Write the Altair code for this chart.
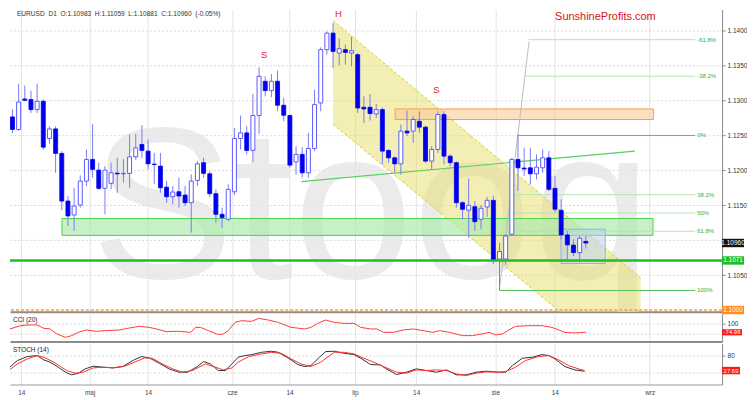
import altair as alt
import pandas as pd

# ---------------- data ----------------
opens = [1.12766, 1.12586, 1.13023, 1.13014, 1.12871, 1.12990, 1.12457, 1.12594, 1.12243, 1.11561,
         1.11361, 1.11504, 1.11847, 1.12157, 1.12004, 1.11743, 1.11814, 1.11960, 1.11950, 1.11957,
         1.12194, 1.12371, 1.12276, 1.12090, 1.12061, 1.11760, 1.11623, 1.11694, 1.11647, 1.11537,
         1.11857, 1.12110, 1.11951, 1.11666, 1.11371, 1.11300, 1.11694, 1.12457, 1.12537, 1.12286,
         1.12786, 1.13276, 1.13143, 1.13276, 1.12933, 1.12786, 1.12123, 1.12229, 1.11966, 1.12314,
         1.12966, 1.13729, 1.13966, 1.13680, 1.13729, 1.13680, 1.13657, 1.12904, 1.12904, 1.12809,
         1.12871, 1.12286, 1.12180, 1.12094, 1.12562, 1.12562, 1.12704, 1.12619, 1.12133, 1.12300,
         1.12800, 1.12204, 1.12110, 1.11537, 1.11429, 1.11480, 1.11300, 1.11476, 1.11571, 1.10729,
         1.10730, 1.11086, 1.12157, 1.12033, 1.12037, 1.11951, 1.12037, 1.12180, 1.11743, 1.11429,
         1.11076, 1.10930, 1.10823, 1.10983]
highs = [1.12876, 1.13243, 1.13214, 1.13143, 1.13243, 1.13020, 1.12633, 1.12633, 1.12276, 1.11633,
         1.11751, 1.11929, 1.12300, 1.12666, 1.12110, 1.12061, 1.12110, 1.12180, 1.12161, 1.12514,
         1.12523, 1.12647, 1.12443, 1.12251, 1.12251, 1.11847, 1.11776, 1.11894, 1.11776, 1.11943,
         1.12133, 1.12180, 1.11990, 1.11729, 1.11466, 1.11800, 1.12609, 1.12786, 1.12633, 1.13094,
         1.13476, 1.13347, 1.13380, 1.13429, 1.13037, 1.12800, 1.12347, 1.12333, 1.12537, 1.13157,
         1.13761, 1.13990, 1.14109, 1.13894, 1.13800, 1.13919, 1.13680, 1.13061, 1.13094, 1.12951,
         1.12900, 1.12300, 1.12200, 1.12657, 1.12857, 1.12776, 1.12847, 1.12640, 1.12347, 1.12847,
         1.12847, 1.12230, 1.12130, 1.11560, 1.11886, 1.11561, 1.11504, 1.11619, 1.11633, 1.10966,
         1.11086, 1.12180, 1.12514, 1.12323, 1.12323, 1.12229, 1.12300, 1.12276, 1.11919, 1.11586,
         1.11133, 1.11014, 1.11061, 1.11059]
lows = [1.12533, 1.12570, 1.12990, 1.12823, 1.12823, 1.12300, 1.12380, 1.11966, 1.11429, 1.11204,
        1.11133, 1.11466, 1.11776, 1.11894, 1.11720, 1.11371, 1.11729, 1.11680, 1.11823, 1.11751,
        1.12150, 1.12180, 1.12014, 1.11809, 1.11680, 1.11537, 1.11514, 1.11466, 1.11490, 1.11109,
        1.11776, 1.11894, 1.11619, 1.11251, 1.11180, 1.11276, 1.11647, 1.12300, 1.12229, 1.12123,
        1.12523, 1.13061, 1.13047, 1.12847, 1.12704, 1.12040, 1.11937, 1.11894, 1.11894, 1.12276,
        1.12847, 1.13657, 1.13466, 1.13504, 1.13514, 1.13490, 1.12823, 1.12680, 1.12714, 1.12751,
        1.12086, 1.12110, 1.11966, 1.11937, 1.12490, 1.12394, 1.12537, 1.12110, 1.12014, 1.12250,
        1.12086, 1.12061, 1.11466, 1.11300, 1.11037, 1.11133, 1.11157, 1.11333, 1.10657, 1.10276,
        1.10650, 1.11060, 1.11704, 1.11919, 1.11800, 1.11871, 1.11966, 1.11704, 1.11400, 1.11014,
        1.10704, 1.10776, 1.10680, 1.10881]
closes = [1.12586, 1.12980, 1.13004, 1.12871, 1.12990, 1.12333, 1.12594, 1.12243, 1.11561, 1.11347,
          1.11490, 1.11847, 1.12157, 1.12014, 1.11743, 1.12004, 1.11966, 1.11950, 1.11957, 1.12194,
          1.12323, 1.12286, 1.12094, 1.12085, 1.11751, 1.11623, 1.11690, 1.11633, 1.11537, 1.11847,
          1.12094, 1.11957, 1.11666, 1.11371, 1.11323, 1.11729, 1.12457, 1.12537, 1.12286, 1.12786,
          1.13347, 1.13143, 1.13276, 1.12933, 1.12790, 1.12076, 1.12229, 1.11966, 1.12314, 1.12943,
          1.13729, 1.13966, 1.13704, 1.13743, 1.13690, 1.13714, 1.12894, 1.12880, 1.12814, 1.12871,
          1.12276, 1.12180, 1.12094, 1.12562, 1.12537, 1.12729, 1.12619, 1.12133, 1.12300, 1.12800,
          1.12204, 1.12110, 1.11537, 1.11443, 1.11500, 1.11266, 1.11457, 1.11571, 1.10729, 1.10837,
          1.11061, 1.12157, 1.12037, 1.12020, 1.11951, 1.12047, 1.12180, 1.11729, 1.11443, 1.11076,
          1.10933, 1.10823, 1.11028, 1.10960]

# trading-day index of the date labels on the time axis
tick_pos = [1.44, 12.52, 21.99, 35.63, 44.94, 55.54, 65.49, 78.33, 87.96, 103.37]
tick_txt = ["14", "maj", "14", "cze", "14", "lip", "14", "sie", "14", "wrz"]
price_ticks = [1.105, 1.11, 1.115, 1.12, 1.125, 1.13, 1.135, 1.14]

# CCI (20)
cci_i = [-0.4, 1.3, 2.4, 4.0, 5.1, 6.1, 7.2, 8.6, 9.6, 10.7, 12.0, 13.6, 15.2, 17.4, 19.0,
         20.6, 22.2, 23.8, 24.9, 27.0, 28.9, 29.7, 30.5, 31.8, 33.4, 34.2, 35.0, 36.1, 37.2, 38.8,
         39.9, 41.5, 43.1, 45.2, 47.4, 48.4, 49.5, 50.8, 52.2, 53.8, 55.4, 56.5, 58.1, 59.1, 60.2,
         61.8, 63.4, 65.0, 66.6, 68.2, 69.3, 70.9, 73.0, 74.6, 76.2, 77.3, 78.4, 79.5, 80.5, 81.6,
         83.7, 85.9, 87.5, 88.6, 89.6, 91.2, 93.0]
cci_v = [-10, 54, 68, 68, 2, -10, -107, -173, -140, -76, -29, -56, -43, -29, 10,
         41, 21, -23, -62, -56, -76, 21, 21, -43, -121, -107, -43, 119, 152, 138,
         196, 165, 119, 21, -10, 21, 99, 165, 119, 99, 99, 21, -10, -10, -76,
         -76, -29, -10, -43, -76, -43, -76, -140, -140, -107, -76, -126, -107, -29, 41,
         54, 54, 21, -29, -76, -88, -75]
cci_last = -74.96

# STOCH (14): %K (black) and %D (red)
k_i = [-0.4, 0.8, 2.4, 4.0, 5.1, 6.1, 7.2, 8.6, 9.6, 10.7, 11.8, 13.1, 14.7, 16.3, 17.9,
       19.5, 20.9, 22.2, 23.8, 25.4, 27.0, 28.4, 30.0, 31.0, 32.1, 33.4, 34.5, 35.6, 36.6, 37.7,
       38.8, 40.4, 42.0, 43.1, 44.7, 46.3, 47.4, 48.4, 49.8, 50.8, 52.2, 53.8, 55.4, 56.7, 58.1,
       59.7, 60.2, 62.3, 63.9, 65.5, 67.1, 68.8, 70.4, 72.0, 73.6, 75.2, 76.8, 78.9, 80.0, 81.1,
       82.7, 84.3, 85.9, 87.0, 88.0, 89.6, 91.2, 92.8]
k_v = [40.0, 62.6, 76.5, 80.0, 64.9, 56.8, 42.9, 22.0, 12.7, 18.5, 33.6, 42.9, 39.4, 37.0, 41.7,
       62.6, 76.5, 71.9, 53.3, 33.6, 22.0, 22.0, 41.7, 59.1, 51.0, 27.8, 27.8, 51.0, 74.2, 80.0,
       83.5, 91.6, 95.1, 91.6, 71.9, 48.6, 41.7, 45.2, 74.2, 93.9, 95.1, 88.1, 83.5, 68.4, 48.6,
       47.5, 39.4, 13.8, 22.0, 33.6, 27.8, 22.0, 30.1, 12.7, 12.7, 22.0, 25.4, 22.0, 22.0, 45.2,
       70.7, 74.2, 83.5, 80.0, 68.4, 41.7, 30.1, 25.4]
d_i = [-0.4, 0.8, 2.4, 4.0, 5.1, 6.7, 7.8, 8.8, 10.2, 11.5, 13.1, 14.7, 16.3, 18.2, 19.8,
       21.4, 22.7, 24.3, 26.0, 27.6, 29.2, 31.3, 32.6, 34.2, 35.6, 36.6, 38.3, 39.9, 42.0, 43.6,
       45.2, 46.8, 48.4, 50.0, 52.2, 53.8, 55.4, 57.0, 58.6, 60.2, 62.3, 63.9, 65.5, 67.1, 68.8,
       70.4, 72.0, 73.6, 75.2, 76.8, 78.9, 80.0, 81.6, 83.2, 85.3, 87.0, 88.6, 90.2, 91.8, 92.8]
d_v = [31.0, 51.0, 68.4, 80.0, 74.2, 56.8, 41.7, 27.8, 18.5, 22.0, 37.0, 39.4, 37.0, 42.9, 56.8,
       71.9, 70.7, 51.0, 33.6, 22.0, 27.8, 51.0, 41.7, 30.1, 37.0, 56.8, 76.5, 83.5, 91.6, 88.1,
       68.4, 51.0, 41.7, 56.8, 91.6, 91.6, 85.8, 70.7, 56.8, 41.7, 22.0, 18.5, 30.1, 27.8, 30.1,
       27.8, 16.1, 10.3, 18.5, 23.1, 22.0, 24.3, 39.4, 62.6, 76.5, 80.0, 64.9, 45.2, 33.6, 27.7]
stoch_last = 27.69

# drawings (trading-day index, price)
chan_i = [52.0, 101.9]
chan_top = [1.14147, 1.10461]
chan_bot = [1.12661, 1.09019]
green_zone = [8.03, 103.9, 1.11069, 1.11311]
orange_zone = [62.07, 103.97, 1.12729, 1.12880]
blue_zone = [88.97, 96.15, 1.10666, 1.11157]
neck_i = [46.87, 100.96]
neck_p = [1.11840, 1.12276]
diag_i = [78.97, 83.79]
diag_p = [1.10286, 1.13847]
fib_lbl = ["-61.8%", "-38.2%", "0%", "38.2%", "50%", "61.8%", "100%"]
fib_p = [1.13872, 1.13348, 1.12500, 1.11652, 1.11390, 1.11128, 1.10280]
fib_start = [83.74, 83.10, 81.96, 80.83, 80.48, 80.11, 78.97]
fib_end = 110.75
fib_lbl_i = 111.07
pat_lbl = ["S", "H", "S"]
pat_i = [40.82, 52.86, 68.75]
pat_p = [1.13657, 1.14245, 1.13157]
support_level = 1.1071
round_level = 1.1000
last_close = 1.1096
NB = "\u00a0\u00a0"
header = NB.join(["EURUSD", "D1", "O:1.10983", "H:1.11059", "L:1.10881", "C:1.10960", "(-0.05%)"])

# ---------------- chart ----------------
FONT = "Liberation Sans"
W = 714
XDOM = [-0.4, 115.1]
xs = alt.Scale(domain=XDOM, nice=False, zero=False, padding=0)
ys = alt.Scale(domain=[1.09976, 1.14304], nice=False, zero=False, padding=0)
cci_s = alt.Scale(domain=[-257, 288], nice=False, zero=False)
sto_s = alt.Scale(domain=[-21, 121.8], nice=False, zero=False)

x_label_expr = ("[" + ",".join(f"'{t}'" for t in tick_txt) + "][indexof(["
                + ",".join(str(v) for v in tick_pos) + "], datum.value)]")


def x_axis(show, dom_color, dom_width):
    return alt.Axis(values=tick_pos, labels=show, labelExpr=x_label_expr, ticks=False,
                    grid=True, gridColor="#e3e3e3", domain=True, domainColor=dom_color,
                    domainWidth=dom_width, title=None, labelFont=FONT, labelFontSize=6.5,
                    labelColor="#444", labelPadding=5)


def y_axis(values, expr):
    return alt.Axis(orient="right", values=values, labelExpr=expr, grid=True,
                    gridColor="#d9d9d9", gridDash=[2, 2], domainColor="#8a8a8a",
                    tickColor="#8a8a8a", tickSize=3, labelFont=FONT, labelFontSize=6.5,
                    labelColor="#333", labelPadding=2, title=None)


ax_main_x = x_axis(False, "#8c8c8c", 2)
ax_main_y = y_axis(price_ticks,
                   "abs(datum.value - 1.11) < 0.0001 ? '' : format(datum.value, '.4f')")


def X(f):
    return alt.X(f"{f}:Q", scale=xs, axis=ax_main_x)


def Y(f):
    return alt.Y(f"{f}:Q", scale=ys, axis=ax_main_y)


df = pd.DataFrame({"i": list(range(len(opens))), "o": opens, "h": highs, "l": lows, "c": closes})

watermark = alt.Chart(pd.DataFrame({"t": ["Stooq"]})).mark_text(
    font=FONT, fontSize=215, color="#e4e4e4", align="center",
    baseline="alphabetic", clip=True, opacity=0.75
).encode(x=alt.value(362), y=alt.value(269), text="t:N")

chan_df = pd.DataFrame({"i": chan_i, "top": chan_top, "bot": chan_bot})
channel = alt.Chart(chan_df).mark_area(color="#e8df6a", opacity=0.5, clip=True).encode(
    x=X("i"), y=Y("top"), y2="bot:Q")
chan_top_line = alt.Chart(chan_df).mark_line(color="#d6cf2a", strokeDash=[3, 2], strokeWidth=1,
                                             clip=True).encode(x=X("i"), y=Y("top"))
chan_bot_line = alt.Chart(chan_df).mark_line(color="#d6cf2a", strokeDash=[3, 2], strokeWidth=1,
                                             clip=True).encode(x=X("i"), y=Y("bot"))


def zone(vals, fill, stroke, op):
    zdf = pd.DataFrame({"x1": [vals[0]], "x2": [vals[1]], "y1": [vals[2]], "y2": [vals[3]]})
    return alt.Chart(zdf).mark_rect(fill=fill, fillOpacity=op, stroke=stroke, strokeWidth=1).encode(
        x=X("x1"), x2="x2:Q", y=Y("y1"), y2="y2:Q")


gz = zone(green_zone, "#aee9ae", "#4fcf4f", 0.7)
oz = zone(orange_zone, "#fcc99a", "#f3a04a", 0.6)
bz = zone(blue_zone, "#b9d4f0", "#8db4e2", 0.55)

neck = alt.Chart(pd.DataFrame({"i": neck_i, "p": neck_p})).mark_line(
    color="#5ccc5c", strokeWidth=1.2).encode(x=X("i"), y=Y("p"))
diag = alt.Chart(pd.DataFrame({"i": diag_i, "p": diag_p})).mark_line(
    color="#bdbdbd", strokeWidth=1).encode(x=X("i"), y=Y("p"))

fib_df = pd.DataFrame({"lbl": fib_lbl, "p": fib_p, "s": fib_start,
                       "e": [fib_end] * len(fib_p), "lx": [fib_lbl_i] * len(fib_p)})
fib_strong = alt.Chart(fib_df).transform_filter(
    "datum.lbl == '0%' || datum.lbl == '100%'").mark_rule(
    color="#55c455", strokeWidth=1).encode(x=X("s"), x2="e:Q", y=Y("p"))
fib_light = alt.Chart(fib_df).transform_filter(
    "datum.lbl != '0%' && datum.lbl != '100%'").mark_rule(
    color="#b5e3b5", strokeWidth=1).encode(x=X("s"), x2="e:Q", y=Y("p"))
fib_text = alt.Chart(fib_df).mark_text(align="left", baseline="middle", font=FONT, fontSize=6,
                                       color="#33b033").encode(x=X("lx"), y=Y("p"), text="lbl:N")

lv_df = pd.DataFrame({"p": [support_level]})
support = alt.Chart(lv_df).mark_rule(color="#1fbf1f", strokeWidth=2.5).encode(y=Y("p"))
rnd = alt.Chart(pd.DataFrame({"p": [round_level]})).mark_rule(
    color="#ff9a3c", strokeWidth=1.5, strokeDash=[3, 2]).encode(y=Y("p"))

wick = alt.Chart(df).mark_rule(color="#7b7bf2", strokeWidth=1).encode(
    x=X("i"), y=Y("l"), y2="h:Q")
body_up = alt.Chart(df).transform_filter("datum.c >= datum.o").mark_bar(
    size=4, fill="white", stroke="#5b5bff", strokeWidth=1).encode(x=X("i"), y=Y("o"), y2="c:Q")
body_dn = alt.Chart(df).transform_filter("datum.c < datum.o").mark_bar(
    size=4, fill="#0000ee", stroke="#0000ee", strokeWidth=0.8).encode(x=X("i"), y=Y("o"), y2="c:Q")

pat = alt.Chart(pd.DataFrame({"t": pat_lbl, "i": pat_i, "p": pat_p})).mark_text(
    font=FONT, fontSize=9.5, color="#e82020", align="center", baseline="middle").encode(
    x=X("i"), y=Y("p"), text="t:N")

brand = alt.Chart(pd.DataFrame({"t": ["SunshineProfits.com"]})).mark_text(
    font=FONT, fontSize=11, color="#d81010", align="center", baseline="middle").encode(
    x=alt.value(597), y=alt.value(8), text="t:N")
head = alt.Chart(pd.DataFrame({"t": [header]})).mark_text(
    font=FONT, fontSize=6.6, color="#333", align="left", baseline="top").encode(
    x=alt.value(7), y=alt.value(1), text="t:N")

box_df = pd.DataFrame({"p": [last_close, support_level, round_level],
                       "t": ["1.10960", "1.1071", "1.1000"]})
box_rect = alt.Chart(box_df).transform_calculate(
    lo="datum.p - 0.0006", hi="datum.p + 0.0006").mark_rect().encode(
    x=alt.value(714), x2=alt.value(736), y=Y("lo"), y2="hi:Q",
    color=alt.Color("t:N", scale=alt.Scale(domain=["1.10960", "1.1071", "1.1000"],
                                           range=["#111111", "#1fbf1f", "#ff8c1a"]), legend=None))
box_text = alt.Chart(box_df).mark_text(font=FONT, fontSize=6.5, color="white", align="center",
                                       baseline="middle").encode(
    x=alt.value(725), y=Y("p"), text="t:N")

main = alt.layer(watermark, channel, chan_top_line, chan_bot_line, gz, oz, bz, neck, diag,
                 fib_light, fib_strong, fib_text, support, rnd, wick, body_up, body_dn,
                 pat, brand, head, box_rect, box_text).properties(width=W, height=303)

# ---------------- CCI ----------------
ax_mid_x = x_axis(False, "#8c8c8c", 2)
ax_cci_y = y_axis([-100, 100], "datum.value == 100 ? '100' : ''")
cci_df = pd.DataFrame({"i": cci_i, "v": cci_v})
cci_line = alt.Chart(cci_df).mark_line(color="#ff3b3b", strokeWidth=1, clip=True).encode(
    x=alt.X("i:Q", scale=xs, axis=ax_mid_x), y=alt.Y("v:Q", scale=cci_s, axis=ax_cci_y))
cci_lab = alt.Chart(pd.DataFrame({"t": ["CCI (20)"]})).mark_text(
    font=FONT, fontSize=6.5, color="#222", align="left", baseline="middle").encode(
    x=alt.value(3), y=alt.value(6), text="t:N")
cci_box_df = pd.DataFrame({"v": [cci_last], "t": [f"{cci_last:.2f}"]})
cci_box = alt.Chart(cci_box_df).transform_calculate(
    lo="datum.v - 60", hi="datum.v + 60").mark_rect(color="#ff1a1a").encode(
    x=alt.value(714), x2=alt.value(734),
    y=alt.Y("lo:Q", scale=cci_s, axis=ax_cci_y), y2="hi:Q")
cci_txt = alt.Chart(cci_box_df).mark_text(font=FONT, fontSize=6, color="white",
                                          align="center", baseline="middle").encode(
    x=alt.value(724), y=alt.Y("v:Q", scale=cci_s, axis=ax_cci_y), text="t:N")
cci = alt.layer(cci_line, cci_lab, cci_box, cci_txt).properties(width=W, height=28)

# ---------------- STOCH ----------------
ax_bot_x = x_axis(True, "#9a9a9a", 1)
ax_sto_y = y_axis([20, 80], "datum.value == 80 ? '80' : ''")
k_df = pd.DataFrame({"i": k_i, "v": k_v})
d_df = pd.DataFrame({"i": d_i, "v": d_v})
k_line = alt.Chart(k_df).mark_line(color="#333333", strokeWidth=1, clip=True).encode(
    x=alt.X("i:Q", scale=xs, axis=ax_bot_x), y=alt.Y("v:Q", scale=sto_s, axis=ax_sto_y))
d_line = alt.Chart(d_df).mark_line(color="#ff3030", strokeWidth=1, clip=True).encode(
    x=alt.X("i:Q", scale=xs, axis=ax_bot_x), y=alt.Y("v:Q", scale=sto_s, axis=ax_sto_y))
sto_lab = alt.Chart(pd.DataFrame({"t": ["STOCH (14)"]})).mark_text(
    font=FONT, fontSize=6.5, color="#222", align="left", baseline="middle").encode(
    x=alt.value(3), y=alt.value(6), text="t:N")
sto_box_df = pd.DataFrame({"v": [stoch_last], "t": [f"{stoch_last:.2f}"]})
sto_box = alt.Chart(sto_box_df).transform_calculate(
    lo="datum.v - 13", hi="datum.v + 13").mark_rect(color="#ff1a1a").encode(
    x=alt.value(714), x2=alt.value(732),
    y=alt.Y("lo:Q", scale=sto_s, axis=ax_sto_y), y2="hi:Q")
sto_txt = alt.Chart(sto_box_df).mark_text(font=FONT, fontSize=6, color="white",
                                          align="center", baseline="middle").encode(
    x=alt.value(723), y=alt.Y("v:Q", scale=sto_s, axis=ax_sto_y), text="t:N")
sto = alt.layer(k_line, d_line, sto_lab, sto_box, sto_txt).properties(width=W, height=41)

chart = alt.vconcat(main, cci, sto, spacing=2, bounds="flush").properties(
    padding=0, background="white").configure_view(stroke=None)

chart.save("out.html", embed_options={"renderer": "svg", "actions": False})
